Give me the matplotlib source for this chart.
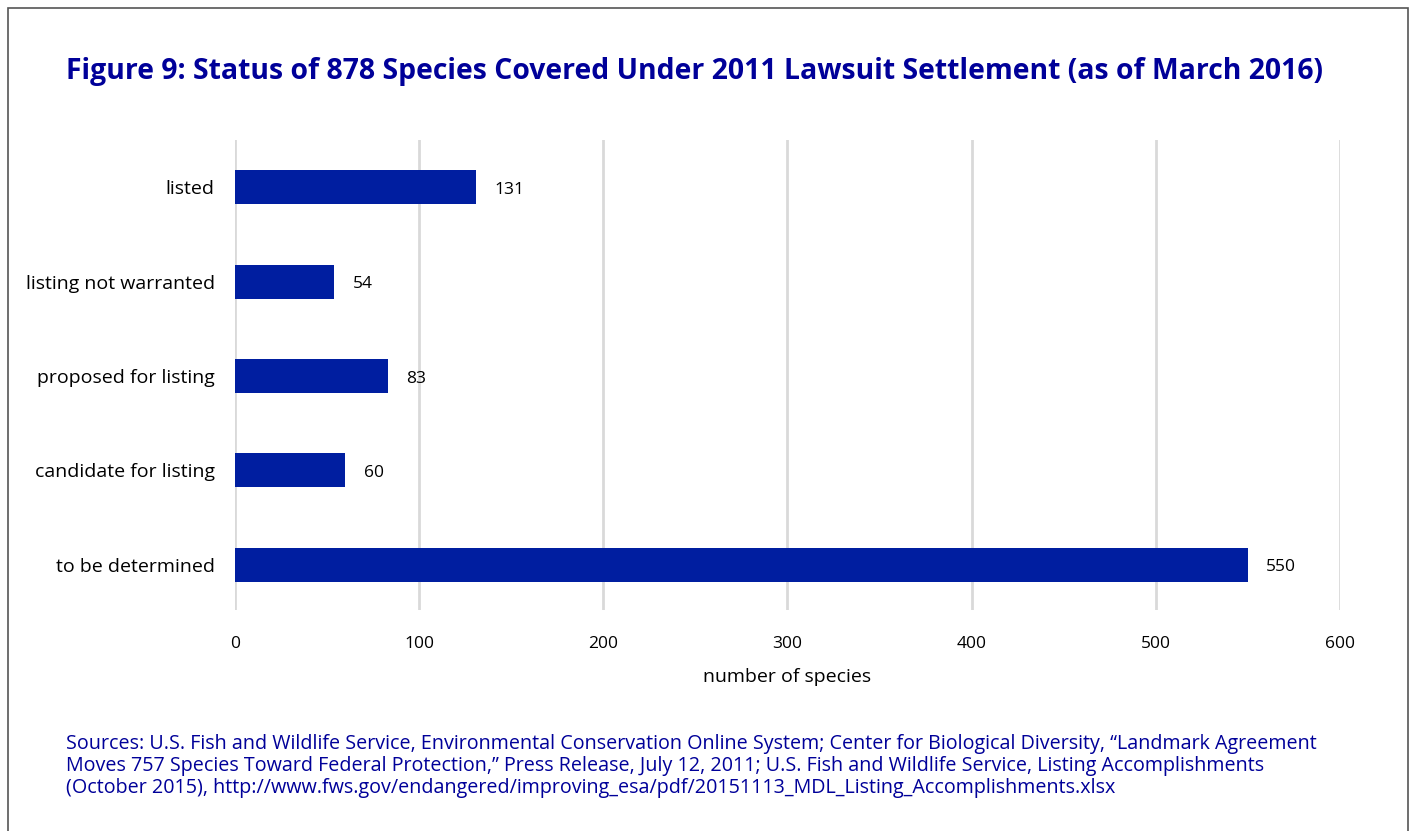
import matplotlib.pyplot as plt
from matplotlib.patches import Rectangle

categories = ['listed', 'listing not warranted', 'proposed for listing',
              'candidate for listing', 'to be determined']
counts = [131, 54, 83, 60, 550]
xticks = [0, 100, 200, 300, 400, 500, 600]

title = 'Figure 9: Status of 878 Species Covered Under 2011 Lawsuit Settlement (as of March 2016)'
sources = ('Sources: U.S. Fish and Wildlife Service, Environmental Conservation Online System; '
           'Center for Biological Diversity, \u201cLandmark Agreement\n'
           'Moves 757 Species Toward Federal Protection,\u201d Press Release, July 12, 2011; '
           'U.S. Fish and Wildlife Service, Listing Accomplishments\n'
           '(October 2015), http://www.fws.gov/endangered/improving_esa/pdf/'
           '20151113_MDL_Listing_Accomplishments.xlsx')

plt.rcParams['font.family'] = ['Open Sans', 'DejaVu Sans']
navy = '#000099'
barcol = '#001ea0'

fig = plt.figure(figsize=(14.13, 8.31), dpi=100)
ax = fig.add_axes([0.1663, 0.266, 0.782, 0.5655])

# frame round the whole figure
fig.patches.append(Rectangle((8 / 1413, -0.01), 1400 / 1413, 1 - 8 / 831 + 0.01,
                             transform=fig.transFigure, fill=False,
                             edgecolor='#555555', linewidth=1.2))

ypos = list(range(len(categories)))
ax.barh(ypos, counts, height=0.36, color=barcol, zorder=3)
for y, v in zip(ypos, counts):
    ax.text(v + 10, y + 0.03, str(v), va='center', ha='left', fontsize=12.5, color='black')

ax.set_xlim(0, 600)
ax.set_ylim(4.48, -0.5)
ax.set_xticks(xticks)
ax.set_yticks(ypos)
ax.set_yticklabels(categories, fontsize=14)
ax.tick_params(axis='x', length=0, pad=19, labelsize=12.5)
ax.tick_params(axis='y', length=0, pad=14.5)
ax.grid(axis='x', color='#d9d9d9', linewidth=2, zorder=0)
for s in ax.spines.values():
    s.set_visible(False)
ax.set_xlabel('number of species', fontsize=14, labelpad=11, color='black')

fig.text(66 / 1413, 1 - 72 / 831, title, fontsize=20.4, fontweight='bold',
         color=navy, va='center', ha='left')
fig.text(66 / 1413, 1 - 734 / 831, sources, fontsize=14.2, color=navy,
         va='top', ha='left', linespacing=1.12)

fig.savefig('out.png', dpi=100)
